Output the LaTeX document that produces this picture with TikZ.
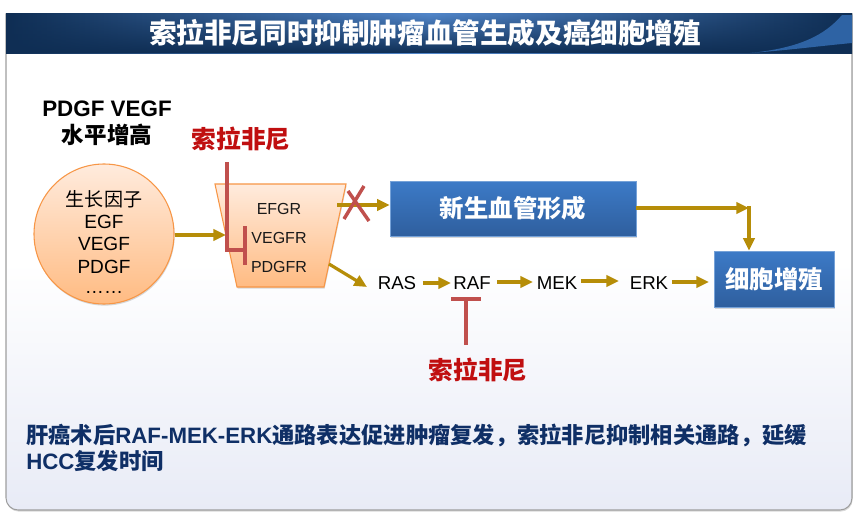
\documentclass[tikz,border=0pt]{standalone}
\usepackage{fontspec}
\setmainfont{Liberation Sans}
\newfontfamily\cjk{Noto Sans CJK SC}
\usetikzlibrary{shapes.geometric,shadows,arrows.meta,fadings}
\definecolor{goldline}{HTML}{B68D08}
\definecolor{barred}{HTML}{C0504D}
\definecolor{labelred}{HTML}{C00F10}
\definecolor{navytext}{HTML}{0F2F66}
\definecolor{blueTop}{HTML}{3C7AC7}
\definecolor{blueBot}{HTML}{2F5F9E}
\definecolor{peachTop}{HTML}{FFEBDD}
\definecolor{peachBot}{HTML}{FFBB82}
\definecolor{peachLine}{HTML}{F79646}
\definecolor{headDark}{HTML}{0F2E54}
\definecolor{headLight}{HTML}{5287CB}
\definecolor{panelBot}{HTML}{E8EBF6}
\tikzfading[name=headfade,top color=transparent!100,bottom color=transparent!0]
\tikzset{
	flow/.style={-{Triangle[length=9.5pt,width=8.5pt]},draw=goldline,line width=2.4pt},
	block/.style={draw=barred,line width=2.6pt},
	softshadow/.style={drop shadow={shadow xshift=.5pt,shadow yshift=-1.2pt,opacity=.3}},
	bluebox/.style={rectangle,inner sep=0pt,top color=blueTop,bottom color=blueBot,draw=blueTop!70!white,line width=.4pt,text=white,font=\cjk\bfseries\fontsize{18.3}{20}\selectfont,softshadow},
	peach/.style={draw=peachLine,line width=.8pt,top color=peachTop,bottom color=peachBot,inner sep=1pt,softshadow},
	drug/.style={text=labelred,font=\cjk\bfseries\fontsize{18.5}{20}\selectfont},
	small/.style={font=\fontsize{12}{14}\selectfont,text=black!90},
	pathway/.style={font=\fontsize{14}{16}\selectfont,text=black},
	factor/.style={font=\fontsize{14.3}{16}\selectfont,text=black},
}
\begin{document}
\begin{tikzpicture}[x=.75pt,y=-.75pt]
	\useasboundingbox (0,0) rectangle (861,514);
	% panel and title band
	\path[draw=black!38,line width=.8pt,top color=white,bottom color=panelBot,middle color=white,softshadow]
	(6,14) {[rounded corners=9pt] -- (6,510) -- (852,510)} -- (852,14) -- cycle;
	\shade[left color=headDark,right color=headDark,middle color=headLight] (6,13) rectangle (852,53);
	\fill[headDark,path fading=headfade] (6,13) rectangle (852,53);
	\fill[blueTop!70!headDark] (750,53) .. controls (800,48) and (825,35) .. (842,15) -- (852,15) -- (852,43) .. controls (820,46) and (790,50) .. (750,53) -- cycle;
	\node[white,font=\cjk\bfseries\fontsize{20.7}{24}\selectfont] (title) at (425,33) {索拉非尼同时抑制肿瘤血管生成及癌细胞增殖};
	% left part
	\node[font=\bfseries\fontsize{16.8}{20}\selectfont] (levelA) at (107,109) {PDGF VEGF};
	\node[font=\cjk\bfseries\fontsize{16.9}{20}\selectfont] (levelB) at (107,135) {水平增高};
	\node[drug] (drugA) at (241,139) {索拉非尼};
	\node[circle,peach,minimum size=105pt] (factors) at (104,234) {};
	\node[factor] (fname) at (104,199) {\cjk 生长因子};
	\node[factor] (fegf) at (104,222) {EGF};
	\node[factor] (fvegf) at (104,244) {VEGF};
	\node[factor] (fpdgf) at (104,267) {PDGF};
	\node[factor] (fdots) at (104,292) {……};
	\node[trapezium,shape border rotate=180,trapezium stretches=true,trapezium angle=75.8,peach,minimum width=98.25pt,minimum height=77.25pt] (recept) at (280.5,235.5) {};
	\node[small] (efgr) at (279,209) {EFGR};
	\node[small] (vegfr) at (279,238) {VEGFR};
	\node[small] (pdgfr) at (279,267) {PDGFR};
	% boxes and pathway
	\node[bluebox,minimum width=184.5pt,minimum height=41.25pt] (vessel) at (513,208.5) {新生血管形成};
	\node[bluebox,minimum width=90pt,minimum height=42pt] (prolif) at (774,279) {细胞增殖};
	\node[pathway] (ras) at (397,283) {RAS};
	\node[pathway] (raf) at (472,283) {RAF};
	\node[pathway] (mek) at (557,283) {MEK};
	\node[pathway] (erk) at (649,283) {ERK};
	\node[drug] (drugB) at (478,370) {索拉非尼};
	\coordinate (corner) at (749,208);
	\coordinate (vessIn) at (337,205);
	\coordinate (rasIn) at (329,264);
	\coordinate (rasEnd) at (367,287);
	% arrows
	\draw[flow] (factors.east) ++(0,1) -- (226,235);
	\draw[flow] (vessIn) -- (vessel.west |- vessIn);
	\draw[flow] (rasIn) -- (rasEnd);
	\draw[flow] (vessel.east |- corner) -- (corner);
	\draw[flow,shorten <=-1.2pt] (corner) -- (prolif.north -| corner);
	\draw[flow] (ras.east) ++(2,0) -- (451,283);
	\draw[flow] (raf.east) ++(2,-1) -- (533,282);
	\draw[flow] (mek.east) ++(-1,-2) -- (619,281);
	\draw[flow] (erk.east) ++(-1,-1) -- (709,282);
	% inhibition marks
	\coordinate (barTop) at (227,162);
	\coordinate (barKnee) at (227,250);
	\coordinate (stopA) at (245,226);
	\coordinate (stopB) at (245,265);
	\draw[block] (barTop) -- (barKnee) -- (barKnee -| stopA);
	\draw[block] (stopA) -- (stopB);
	\draw[block] (348,191) -- (369,221);
	\draw[block] (364,186) -- (344,219);
	\coordinate (tLeft) at (451,299);
	\coordinate (tRight) at (481,299);
	\draw[block] (tLeft) -- (tRight);
	\draw[block] (466,299) -- (466,345);
	% note
	\node[anchor=north west,inner sep=0pt,align=left,text=navytext,font=\bfseries\fontsize{16.7}{19.5}\selectfont] (note) at (26,424) {{\cjk 肝癌术后}RAF-MEK-ERK{\cjk 通路表达促进肿瘤复发，索拉非尼抑制相关通路，延缓}\\HCC{\cjk 复发时间}};
\end{tikzpicture}
\end{document}
